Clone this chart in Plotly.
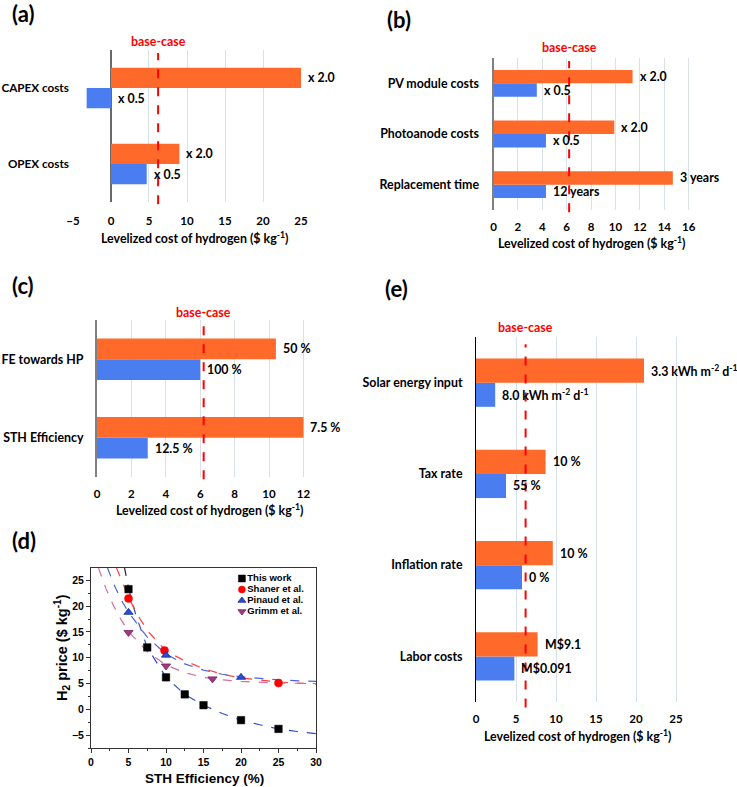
import plotly.graph_objects as go

W, H = 737, 787
ORANGE = '#FF6A2B'
BLUE = '#4A7EF0'
RED = '#FF0000'
GRID = '#D8E0EA'
BARGAP = 0.47
BASE_CASE = 6.2
LBL_FONT = 'Lato'
ARIAL = 'Liberation Sans'
FS = 12.4

# ---------------- data: tornado panels ----------------
a_cats = ['CAPEX costs', 'OPEX costs']
a_high = [25.0, 9.0]
a_low = [-3.2, 4.7]
a_high_lbl = ['x 2.0', 'x 2.0']
a_low_lbl = ['x 0.5', 'x 0.5']

b_cats = ['PV module costs', 'Photoanode costs', 'Replacement time']
b_high = [11.4, 9.9, 14.7]
b_low = [3.55, 4.3, 4.3]
b_high_lbl = ['x 2.0', 'x 2.0', '3 years']
b_low_lbl = ['x 0.5', 'x 0.5', '12 years']

c_cats = ['FE towards HP', 'STH Efficiency']
c_high = [10.4, 12.0]
c_low = [6.0, 2.95]
c_high_lbl = ['50 %', '7.5 %']
c_low_lbl = ['100 %', '12.5 %']

e_cats = ['Solar energy input', 'Tax rate', 'Inflation rate', 'Labor costs']
e_high = [21.0, 8.7, 9.6, 7.7]
e_low = [2.4, 3.75, 5.75, 4.8]
e_high_lbl = ['3.3 kWh m<sup>-2</sup> d<sup>-1</sup>', '10 %', '10 %', 'M$9.1']
e_low_lbl = ['8.0 kWh m<sup>-2</sup> d<sup>-1</sup>', '55 %', '0 %', 'M$0.091']

# ---------------- data: panel (d) ----------------
d_names = ['This work', 'Shaner et al.', 'Pinaud et al.', 'Grimm et al.']
tw_x = [5, 7.5, 10, 12.5, 15, 20, 25]
tw_y = [23.3, 12.0, 6.2, 2.9, 0.8, -2.1, -3.8]
sh_x = [5, 9.8, 25]
sh_y = [21.5, 11.4, 5.1]
pi_x = [5, 10, 20]
pi_y = [18.8, 10.5, 6.2]
gr_x = [5, 10, 16.2]
gr_y = [14.9, 8.4, 5.9]

tw_fit_top_x = [4.45, 5.0]
tw_fit_top_y = [27.6, 23.5]
tw_fit_x = [5.0, 6, 7.5, 10, 12.5, 15, 17.5, 20, 22.5, 25, 27.5, 30]
tw_fit_y = [23.5, 18.2, 12.0, 6.2, 2.9, 0.8, -0.8, -2.1, -3.0, -3.8, -4.3, -4.7]
sh_fit_x = [3.4, 4, 5, 6, 7.5, 10, 12.5, 15, 17.5, 20, 25, 30]
sh_fit_y = [27.4, 25.2, 21.8, 18.8, 15.3, 11.3, 9.4, 7.9, 6.8, 6.1, 5.3, 4.9]
pi_fit_x = [2.2, 3, 4, 5, 7.5, 10, 12.5, 15, 17.5, 20, 25, 30]
pi_fit_y = [27.4, 24.4, 21.3, 18.8, 14.0, 10.7, 8.8, 7.6, 6.8, 6.3, 5.7, 5.4]
gr_fit_x = [1.0, 2, 3, 4, 5, 7.5, 10, 12.5, 15, 17.5, 20, 25, 30]
gr_fit_y = [27.4, 23.4, 20.1, 17.4, 15.1, 11.2, 8.6, 7.1, 6.2, 5.7, 5.4, 5.1, 5.0]


def fx(p):
    return p / W


def fy(p):
    return 1 - p / H


fig = go.Figure()
layout = dict(
    width=W, height=H, margin=dict(l=0, r=0, t=0, b=0, autoexpand=False),
    paper_bgcolor='white', plot_bgcolor='white',
    barmode='group', bargap=BARGAP, bargroupgap=0, showlegend=False,
    font=dict(family=LBL_FONT, color='black'),
)
annotations = []
shapes = []

panels = [
    dict(i='', cats=a_cats, hi=a_high, lo=a_low, hl=a_high_lbl, ll=a_low_lbl,
         xr=[-5.1, 25.1], dt=5, xd=(72.2, 301.8), yd=(50, 202), bc=41, tx=194, ty=237,
         tpad=8, ypad=0, yfs=11.7, yline=None, zero=True),
    dict(i='2', cats=b_cats, hi=b_high, lo=b_low, hl=b_high_lbl, ll=b_low_lbl,
         xr=[0, 16.5], dt=2, xd=(493.5, 694.8), yd=(58, 210), bc=48, tx=591, ty=242,
         tpad=6, ypad=10, yfs=FS, yline=('#808080', 2), zero=False),
    dict(i='3', cats=c_cats, hi=c_high, lo=c_low, hl=c_high_lbl, ll=c_low_lbl,
         xr=[0, 12.3], dt=2, xd=(97, 308.6), yd=(320, 477), bc=312, tx=209, ty=510,
         tpad=6, ypad=9, yfs=FS, yline=('#808080', 2), zero=False),
    dict(i='4', cats=e_cats, hi=e_high, lo=e_low, hl=e_high_lbl, ll=e_low_lbl,
         xr=[0, 26], dt=5, xd=(476, 684), yd=(337, 702), bc=327, tx=577, ty=735,
         tpad=6, ypad=10, yfs=FS, yline=('#000000', 1), zero=False),
]

for p in panels:
    xa = 'x' + p['i']
    ya = 'y' + p['i']
    xkey = 'xaxis' + p['i']
    ykey = 'yaxis' + p['i']
    fig.add_trace(go.Bar(orientation='h', x=p['lo'], y=p['cats'], xaxis=xa, yaxis=ya,
                         marker=dict(color=BLUE, line=dict(width=0))))
    fig.add_trace(go.Bar(orientation='h', x=p['hi'], y=p['cats'], xaxis=xa, yaxis=ya,
                         marker=dict(color=ORANGE, line=dict(width=0))))
    layout[xkey] = dict(
        domain=[fx(p['xd'][0]), fx(p['xd'][1])], range=p['xr'], dtick=p['dt'], tick0=0,
        anchor=ya, showgrid=True, gridcolor=GRID, gridwidth=1, automargin=False,
        zeroline=p['zero'], zerolinecolor='#6A6A6A', zerolinewidth=2,
        showline=False, ticks='outside', ticklen=p['tpad'], tickcolor='rgba(0,0,0,0)',
        tickfont=dict(family=LBL_FONT, size=11.5, color='black', weight='bold'),
        fixedrange=True,
    )
    yl = dict(
        domain=[fy(p['yd'][1]), fy(p['yd'][0])], anchor=xa, type='category',
        categoryorder='array', categoryarray=list(reversed(p['cats'])),
        range=[-0.5, len(p['cats']) - 0.5], automargin=False,
        showgrid=False, zeroline=False, ticks='outside', ticklen=p['ypad'],
        tickcolor='rgba(0,0,0,0)',
        tickfont=dict(family=LBL_FONT, size=p['yfs'], color='black', weight='bold'),
        fixedrange=True,
    )
    if p['yline']:
        yl.update(showline=True, linecolor=p['yline'][0], linewidth=p['yline'][1])
    else:
        yl.update(showline=False)
    layout[ykey] = yl

    cat_px = (p['yd'][1] - p['yd'][0]) / len(p['cats'])
    half = cat_px * (1 - BARGAP) / 4
    for c, v, t in zip(p['cats'], p['hi'], p['hl']):
        annotations.append(dict(x=max(v, 0), y=c, xref=xa, yref=ya, text=t, showarrow=False,
                                xanchor='left', yanchor='middle', xshift=5, yshift=half,
                                font=dict(family=LBL_FONT, size=FS, color='black', weight='bold')))
    for c, v, t in zip(p['cats'], p['lo'], p['ll']):
        annotations.append(dict(x=max(v, 0), y=c, xref=xa, yref=ya, text=t, showarrow=False,
                                xanchor='left', yanchor='middle', xshift=5, yshift=-half,
                                font=dict(family=LBL_FONT, size=FS, color='black', weight='bold')))
    shapes.append(dict(type='line', xref=xa, yref=ya + ' domain', x0=BASE_CASE, x1=BASE_CASE,
                       y0=-0.015, y1=0.98, line=dict(color=RED, width=2, dash='dash'), layer='above'))
    annotations.append(dict(x=BASE_CASE, y=fy(p['bc']), xref=xa, yref='paper', text='base-case',
                            showarrow=False, xanchor='center', yanchor='middle',
                            font=dict(family=LBL_FONT, size=FS, color=RED, weight='bold')))
    annotations.append(dict(x=fx(p['tx']), y=fy(p['ty']), xref='paper', yref='paper',
                            text='Levelized cost of hydrogen ($ kg<sup>-1</sup>)', showarrow=False,
                            xanchor='center', yanchor='middle',
                            font=dict(family=LBL_FONT, size=FS, color='black', weight='bold')))

# ---------------- panel (d) ----------------
fig.add_trace(go.Scatter(x=tw_fit_top_x, y=tw_fit_top_y, mode='lines', xaxis='x5', yaxis='y5',
                         line=dict(color='#222222', width=1.2, dash='dash')))
fig.add_trace(go.Scatter(x=tw_fit_x, y=tw_fit_y, mode='lines', xaxis='x5', yaxis='y5',
                         line=dict(color='#2E4BC6', width=1.2, dash='dash')))
fig.add_trace(go.Scatter(x=sh_fit_x, y=sh_fit_y, mode='lines', xaxis='x5', yaxis='y5',
                         line=dict(color='#FF4040', width=1.2, dash='dash')))
fig.add_trace(go.Scatter(x=pi_fit_x, y=pi_fit_y, mode='lines', xaxis='x5', yaxis='y5',
                         line=dict(color='#4A64D8', width=1.2, dash='dash')))
fig.add_trace(go.Scatter(x=gr_fit_x, y=gr_fit_y, mode='lines', xaxis='x5', yaxis='y5',
                         line=dict(color='#D070A0', width=1.2, dash='dash')))

d_styles = [
    dict(symbol='square', color='#000000', size=7.5, line=dict(color='#000000', width=0.5)),
    dict(symbol='circle', color='#FF0000', size=8, line=dict(color='#FF0000', width=0.5)),
    dict(symbol='triangle-up', color='#2A4FD0', size=8, line=dict(color='#1A2F90', width=0.8)),
    dict(symbol='triangle-down', color='#A03A80', size=8, line=dict(color='#7A2060', width=0.8)),
]
d_series = [(tw_x, tw_y), (sh_x, sh_y), (pi_x, pi_y), (gr_x, gr_y)]
for (xs, ys), st in zip(d_series, d_styles):
    fig.add_trace(go.Scatter(x=xs, y=ys, mode='markers', xaxis='x5', yaxis='y5', marker=st,
                             cliponaxis=False))

# compact legend for (d)
for k, (name, st) in enumerate(zip(d_names, d_styles)):
    fig.add_trace(go.Scatter(x=[0.08], y=[k], mode='markers+text', xaxis='x6', yaxis='y6',
                             marker=dict(symbol=st['symbol'], color=st['color'], size=7,
                                         line=st['line']),
                             text=[name], textposition='middle right',
                             textfont=dict(family=ARIAL, size=9.5, color='black', weight='bold'),
                             cliponaxis=False))

dfont = dict(family=ARIAL, size=10.5, color='black', weight='bold')
layout['xaxis5'] = dict(domain=[fx(91), fx(316)], range=[0, 30], dtick=5, tick0=0, anchor='y5',
                        showgrid=False, zeroline=False, showline=True, mirror=True,
                        linecolor='#333333', linewidth=1, ticks='outside', ticklen=4,
                        tickcolor='#333333', tickfont=dfont, automargin=False,
                        minor=dict(dtick=2.5, ticks='outside', ticklen=2, tickcolor='#333333'),
                        fixedrange=True)
layout['yaxis5'] = dict(domain=[fy(748), fy(568)], range=[-7.5, 27.4], dtick=5, tick0=0,
                        anchor='x5', showgrid=False, zeroline=False, showline=True, mirror=True,
                        linecolor='#333333', linewidth=1, ticks='outside', ticklen=4,
                        tickcolor='#333333', tickfont=dfont, automargin=False,
                        minor=dict(dtick=2.5, ticks='outside', ticklen=2, tickcolor='#333333'),
                        fixedrange=True)
layout['xaxis6'] = dict(domain=[fx(236), fx(310)], range=[0, 1], visible=False, anchor='y6',
                        fixedrange=True, automargin=False)
layout['yaxis6'] = dict(domain=[fy(617), fy(573)], range=[3.5, -0.5], visible=False, anchor='x6',
                        fixedrange=True, automargin=False)

annotations.append(dict(x=fx(204), y=fy(778), xref='paper', yref='paper',
                        text='STH Efficiency (%)', showarrow=False, xanchor='center',
                        yanchor='middle', font=dict(family=ARIAL, size=13.5, color='black',
                                                    weight='bold')))
annotations.append(dict(x=fx(62), y=fy(648), xref='paper', yref='paper',
                        text='H<sub>2</sub> price ($ kg<sup>-1</sup>)', showarrow=False,
                        textangle=-90, xanchor='center', yanchor='middle',
                        font=dict(family=ARIAL, size=14.5, color='black', weight='bold')))

for t, x, y in [('(a)', 10, 14), ('(b)', 385, 20), ('(c)', 10, 286), ('(d)', 10, 540),
                ('(e)', 383, 288)]:
    annotations.append(dict(x=fx(x), y=fy(y), xref='paper', yref='paper', text=t,
                            showarrow=False, xanchor='left', yanchor='middle',
                            font=dict(family=LBL_FONT, size=22, color='black', weight='bold')))

layout['annotations'] = annotations
layout['shapes'] = shapes
fig.update_layout(**layout)
fig.write_html('out.html', config={'displayModeBar': False, 'staticPlot': True},
               post_script="document.body.style.margin='0';")
